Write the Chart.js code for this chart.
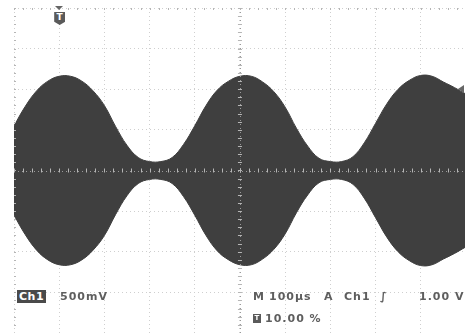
<!DOCTYPE html>
<html>
<head>
<meta charset="utf-8">
<script src="https://cdn.jsdelivr.net/npm/chart.js@4.4.1/dist/chart.umd.min.js"></script>
<style>
body { margin: 0; background: #fff; }
#wrap { position: relative; width: 465px; height: 333px; overflow: hidden; }
canvas { display: block; }
.lbl { position: absolute; font-family: "DejaVu Sans", sans-serif; font-size: 11px; font-weight: bold;
       color: #5e5e5e; line-height: 13px; white-space: pre; letter-spacing: 1px; }
#ch1box { background: #4a4a4a; color: #fff; padding: 0 2px; letter-spacing: 0.5px; }
#trigT { position: absolute; width: 11px; height: 13px; background: #5a5a5a; color: #fff;
         font: bold 9px "DejaVu Sans", sans-serif; text-align: center; line-height: 11px;
         clip-path: polygon(0 0, 100% 0, 100% 75%, 50% 100%, 0 75%); }
#trigTri { position: absolute; width: 0; height: 0; border-left: 4px solid transparent;
           border-right: 4px solid transparent; border-top: 4px solid #666; }
#levelArrow { position: absolute; width: 0; height: 0; border-top: 4px solid transparent;
              border-bottom: 4px solid transparent; border-right: 6px solid #666; }
#pctIcon { position: absolute; width: 8px; height: 9px; background: #5a5a5a; color: #fff;
           font: bold 7px "DejaVu Sans", sans-serif; text-align: center; line-height: 9px; }
</style>
</head>
<body>
<div id="wrap">
  <canvas id="scope" width="465" height="333"></canvas>
  <div id="trigTri"></div>
  <div id="trigT">T</div>
  <div id="levelArrow"></div>
  <span class="lbl" id="ch1box" style="left:17px;top:290px;">Ch1</span>
  <span class="lbl" style="left:60px;top:290px;">500mV</span>
  <span class="lbl" style="left:253px;top:290px;">M</span>
  <span class="lbl" style="left:269px;top:290px;">100µs</span>
  <span class="lbl" style="left:324px;top:290px;">A</span>
  <span class="lbl" style="left:344px;top:290px;">Ch1</span>
  <span class="lbl" style="left:380px;top:290px;font-style:italic;">∫</span>
  <span class="lbl" style="left:419px;top:290px;">1.00 V</span>
  <div id="pctIcon" style="left:253px;top:314px;">T</div>
  <span class="lbl" style="left:265px;top:312px;">10.00 %</span>
</div>
<script>
// time in microseconds (100 µs/div), envelope in volts (500 mV/div)
const timeUs = [-500, -475, -450, -425, -400, -375, -350, -325, -300, -275, -250, -225, -200, -175,
                -150, -125, -100, -75, -50, -25, 0, 25, 50, 75, 100, 125, 150, 175, 200,
                225, 250, 275, 300, 325, 350, 375, 400, 425, 450, 475, 500];
const envelopeV = [0.55, 0.79, 0.98, 1.10, 1.16, 1.16, 1.10, 0.98, 0.80, 0.54, 0.31, 0.16, 0.11, 0.11,
                   0.16, 0.32, 0.55, 0.80, 0.99, 1.10, 1.16, 1.16, 1.09, 0.97, 0.78, 0.52, 0.30, 0.15, 0.11,
                   0.11, 0.17, 0.34, 0.58, 0.82, 1.00, 1.11, 1.17, 1.16, 1.09, 1.02, 0.94];
const xTicksUs = [-500, -400, -300, -200, -100, 0, 100, 200, 300, 400];
const yTicksV = [-2, -1.5, -1, -0.5, 0, 0.5, 1, 1.5, 2];
const triggerUs = -400;
const triggerLevelV = 1.0;

const traceColor = '#3f3f3f';
const gridColor = '#cfcfcf';

const upper = timeUs.map((t, i) => ({ x: t, y: envelopeV[i] }));
const lower = timeUs.map((t, i) => ({ x: t, y: -envelopeV[i] }));

// minor ticks on the centre cross and edges, drawn over the trace like a graticule
const graticule = {
    id: 'graticule',
    afterDatasetsDraw(chart) {
        const ctx = chart.ctx;
        const xs = chart.scales.x, ys = chart.scales.y;
        const x0 = xs.getPixelForValue(0), y0 = ys.getPixelForValue(0);
        const left = chart.chartArea.left, top = chart.chartArea.top;
        ctx.save();
        ctx.strokeStyle = '#9a9a9a';
        ctx.lineWidth = 1;
        ctx.setLineDash([1, 3]);
        ctx.beginPath();
        ctx.moveTo(chart.chartArea.left, Math.round(y0) + 0.5);
        ctx.lineTo(chart.chartArea.right, Math.round(y0) + 0.5);
        ctx.moveTo(Math.round(x0) + 0.5, chart.chartArea.top);
        ctx.lineTo(Math.round(x0) + 0.5, chart.chartArea.bottom);
        ctx.stroke();
        ctx.setLineDash([]);
        ctx.strokeStyle = '#b5b5b5';
        ctx.beginPath();
        for (let t = -500; t <= 500; t += 20) {
            const px = Math.round(xs.getPixelForValue(t)) + 0.5;
            ctx.moveTo(px, y0 - 2); ctx.lineTo(px, y0 + 2);
            ctx.moveTo(px, top); ctx.lineTo(px, top + 2);
        }
        for (let v = -2; v <= 2.001; v += 0.1) {
            const py = Math.round(ys.getPixelForValue(v)) + 0.5;
            ctx.moveTo(x0 - 2, py); ctx.lineTo(x0 + 2, py);
            ctx.moveTo(left, py); ctx.lineTo(left + 2, py);
        }
        ctx.stroke();
        ctx.restore();
    }
};

const chart = new Chart(document.getElementById('scope').getContext('2d'), {
    type: 'line',
    data: {
        datasets: [
            { data: upper, borderColor: traceColor, backgroundColor: traceColor, borderWidth: 1,
              pointRadius: 0, fill: '+1', tension: 0.4 },
            { data: lower, borderColor: traceColor, backgroundColor: traceColor, borderWidth: 1,
              pointRadius: 0, fill: false, tension: 0.4 }
        ]
    },
    options: {
        responsive: false,
        animation: false,
        devicePixelRatio: 1,
        layout: { padding: { left: 14, top: 8, right: 0, bottom: 0 } },
        plugins: { legend: { display: false }, tooltip: { enabled: false } },
        scales: {
            x: {
                type: 'linear', min: -500, max: 498,
                afterBuildTicks: s => { s.ticks = xTicksUs.map(v => ({ value: v })); },
                ticks: { display: false },
                grid: { color: gridColor, drawTicks: false, lineWidth: 1 },
                border: { display: false, dash: [1, 3] }
            },
            y: {
                type: 'linear', min: -2, max: 2,
                afterBuildTicks: s => { s.ticks = yTicksV.map(v => ({ value: v })); },
                ticks: { display: false },
                grid: { color: gridColor, drawTicks: false, lineWidth: 1 },
                border: { display: false, dash: [1, 3] }
            }
        }
    },
    plugins: [graticule]
});

// trigger position and level markers placed through the scales
const tx = chart.scales.x.getPixelForValue(triggerUs);
const tri = document.getElementById('trigTri');
tri.style.left = (tx - 4) + 'px'; tri.style.top = (chart.chartArea.top - 2) + 'px';
const tt = document.getElementById('trigT');
tt.style.left = (tx - 5) + 'px'; tt.style.top = (chart.chartArea.top + 4) + 'px';
const ly = chart.scales.y.getPixelForValue(triggerLevelV);
const la = document.getElementById('levelArrow');
la.style.left = '458px'; la.style.top = (ly - 4) + 'px';
</script>
</body>
</html>
